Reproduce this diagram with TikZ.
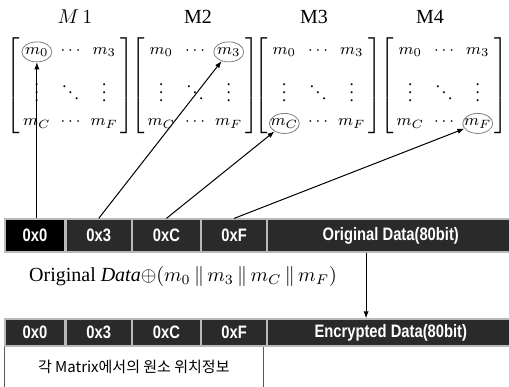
\documentclass[tikz,border=0pt]{standalone}
\usepackage{amsmath,amssymb}
\usepackage{fontspec}
\setmainfont{Liberation Serif}
\newfontfamily\barfont[FakeStretch=0.82]{Liberation Sans}
\newfontfamily\kofont{Noto Sans CJK KR}
\usepackage{tikz}
\usetikzlibrary{arrows.meta,positioning,calc,shapes.geometric,matrix}
\definecolor{bardark}{RGB}{42,42,42}

\tikzset{
    hexcell/.style={
        fill=bardark,
        draw=gray!55,
        line width=0.6pt,
        text=white,
        font=\barfont\bfseries\fontsize{9}{10}\selectfont,
        inner sep=0pt
    },
    mtx/.style={
        matrix of math nodes,
        inner sep=0pt,
        left delimiter={[},
        right delimiter={]},
        nodes={minimum width=13pt, minimum height=10pt, inner sep=0pt,
            font=\fontsize{8.5}{9}\selectfont},
        column sep=3.5pt,
        row sep=5pt
    },
    pick/.style={draw=gray, ellipse, thin, inner sep=0pt, minimum width=15pt, minimum height=10pt},
    link/.style={-{Latex[length=3.5pt,width=2.6pt]}, line width=0.5pt}
}

\begin{document}
\begin{tikzpicture}[x=0.5pt, y=-0.5pt]
    \useasboundingbox (0,0) rectangle (509,386);

    \node (t1) at (75,17) {\fontsize{10}{12}\selectfont $M\,1$};
    \node (t2) at (198,17) {\fontsize{10}{12}\selectfont M2};
    \node (t3) at (314,17) {\fontsize{10}{12}\selectfont M3};
    \node (t4) at (430,17) {\fontsize{10}{12}\selectfont M4};

    \matrix (m1) [mtx] at (70.5,87) {
        m_0 & \cdots & m_3 \\
        \vdots & \ddots & \vdots \\
        m_C & \cdots & m_F \\
    };
    \matrix (m2) [mtx] at (195,87) {
        m_0 & \cdots & m_3 \\
        \vdots & \ddots & \vdots \\
        m_C & \cdots & m_F \\
    };
    \matrix (m3) [mtx] at (318,87) {
        m_0 & \cdots & m_3 \\
        \vdots & \ddots & \vdots \\
        m_C & \cdots & m_F \\
    };
    \matrix (m4) [mtx] at (444,87) {
        m_0 & \cdots & m_3 \\
        \vdots & \ddots & \vdots \\
        m_C & \cdots & m_F \\
    };

    \node[pick] (e1) at (m1-1-1) {};
    \node[pick] (e2) at (m2-1-3) {};
    \node[pick] (e3) at (m3-3-1) {};
    \node[pick] (e4) at (m4-3-3) {};

    \node[hexcell, fill=black, minimum width=30pt, minimum height=16.5pt] (a0) at (35,235.5) {0x0};
    \node[hexcell, minimum width=32.5pt, minimum height=16.5pt, right=0pt of a0] (a3) {0x3};
    \node[hexcell, minimum width=34pt, minimum height=16.5pt, right=0pt of a3] (aC) {0xC};
    \node[hexcell, minimum width=32.5pt, minimum height=16.5pt, right=0pt of aC] (aF) {0xF};
    \node[hexcell, minimum width=123pt, minimum height=16.5pt, right=0pt of aF] (aD) {Original Data(80bit)};

    \node (xpr) at (183,276) {\fontsize{10}{12}\selectfont
        Original $\mathit{Data}{\oplus}(m_0\,\|\,m_3\,\|\,m_C\,\|\,m_F)$};

    \node[hexcell, minimum width=30pt, minimum height=13.5pt] (b0) at (35,332.5) {0x0};
    \node[hexcell, minimum width=32.5pt, minimum height=13.5pt, right=0pt of b0] (b3) {0x3};
    \node[hexcell, minimum width=34pt, minimum height=13.5pt, right=0pt of b3] (bC) {0xC};
    \node[hexcell, minimum width=32.5pt, minimum height=13.5pt, right=0pt of bC] (bF) {0xF};
    \node[hexcell, minimum width=123pt, minimum height=13.5pt, right=0pt of bF] (bD) {Encrypted Data(80bit)};

    \node[
        minimum width=129pt,
        minimum height=20pt,
        font=\kofont\fontsize{7.5}{9}\selectfont,
        below=0pt of b0.south west,
        anchor=north west
    ] (info) {각 Matrix에서의 원소 위치정보};
    \draw[gray!70!black, line width=0.6pt] (info.north west) -- (info.south west);
    \draw[gray!70!black, line width=0.6pt] (info.north east) -- (info.south east);

    \draw[link] (a0.north -| e1) -- (e1);
    \draw[link] (a3.north) -- (e2);
    \draw[link] (aC.north) -- (e3);
    \draw[link] (aF.north) -- (e4);

    \coordinate (tap) at ($(aD.south west)!0.4!(aD.south east)$);
    \draw[link] (tap) -- (tap |- bD.north);
\end{tikzpicture}
\end{document}
